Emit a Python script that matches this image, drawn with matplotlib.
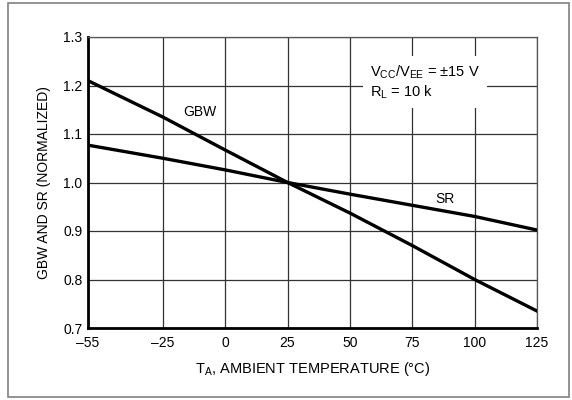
import matplotlib
matplotlib.use("Agg")
import matplotlib.pyplot as plt
from matplotlib.patches import Rectangle

plt.rcParams['font.family'] = ['Liberation Sans', 'DejaVu Sans']
plt.rcParams['mathtext.fontset'] = 'custom'
plt.rcParams['mathtext.rm'] = 'Liberation Sans'
plt.rcParams['mathtext.it'] = 'Liberation Sans'

# data
temp = [-55, -25, 0, 25, 50, 75, 100, 125]
gbw = [1.21, 1.135, 1.067, 1.0, 0.937, 0.870, 0.800, 0.735]
sr = [1.077, 1.050, 1.026, 1.0, 0.976, 0.953, 0.930, 0.902]
xticks = [-55, -25, 0, 25, 50, 75, 100, 125]
xlabels = ['\u201355', '\u201325', '0', '25', '50', '75', '100', '125']
yticks = [0.7, 0.8, 0.9, 1.0, 1.1, 1.2, 1.3]

fig = plt.figure(figsize=(5.72, 4.0), dpi=100)
fig.patches.append(Rectangle((8 / 572, 3 / 400), 561 / 572, 394 / 400,
                             transform=fig.transFigure, fill=False,
                             edgecolor='#808080', linewidth=1.2))

ax = fig.add_axes([88 / 572, 72 / 400, 449 / 572, 291 / 400])
ax.set_xlim(-55, 125)
ax.set_ylim(0.7, 1.3)
ax.set_xticks(xticks)
ax.set_xticklabels(xlabels)
ax.set_yticks(yticks)
ax.set_yticklabels(['%.1f' % v for v in yticks])
ax.tick_params(length=0, labelsize=10)
ax.tick_params(axis='x', pad=6)
ax.tick_params(axis='y', pad=4)
ax.grid(True, color='#333333', linewidth=0.9)
ax.set_axisbelow(True)

for s in ['left', 'bottom']:
    ax.spines[s].set_linewidth(2.0)
    ax.spines[s].set_color('black')
for s in ['top', 'right']:
    ax.spines[s].set_linewidth(0.9)
    ax.spines[s].set_color('#555555')

ax.plot(temp, gbw, color='black', linewidth=2.4, zorder=3)
ax.plot(temp, sr, color='black', linewidth=2.4, zorder=3)

ax.text(-10, 1.145, 'GBW', fontsize=10, ha='center', va='center')
ax.text(88, 0.967, 'SR', fontsize=10, ha='center', va='center')

note = (r'V$_{\mathrm{CC}}$/V$_{\mathrm{EE}}$ = ' + '\u00b1' + '15 V\n'
        + r'R$_{\mathrm{L}}$ = 10 k')
ax.text(58, 1.207, note, fontsize=10.5, ha='left', va='center',
        linespacing=1.2, zorder=4,
        bbox=dict(facecolor='white', edgecolor='none', pad=5))

ax.set_ylabel('GBW AND SR (NORMALIZED)', fontsize=10, labelpad=9)
ax.set_xlabel(r'T$_{\mathrm{A}}$, AMBIENT TEMPERATURE ($\degree$C)', fontsize=10.5, labelpad=7)

fig.savefig('out.png', dpi=100)
